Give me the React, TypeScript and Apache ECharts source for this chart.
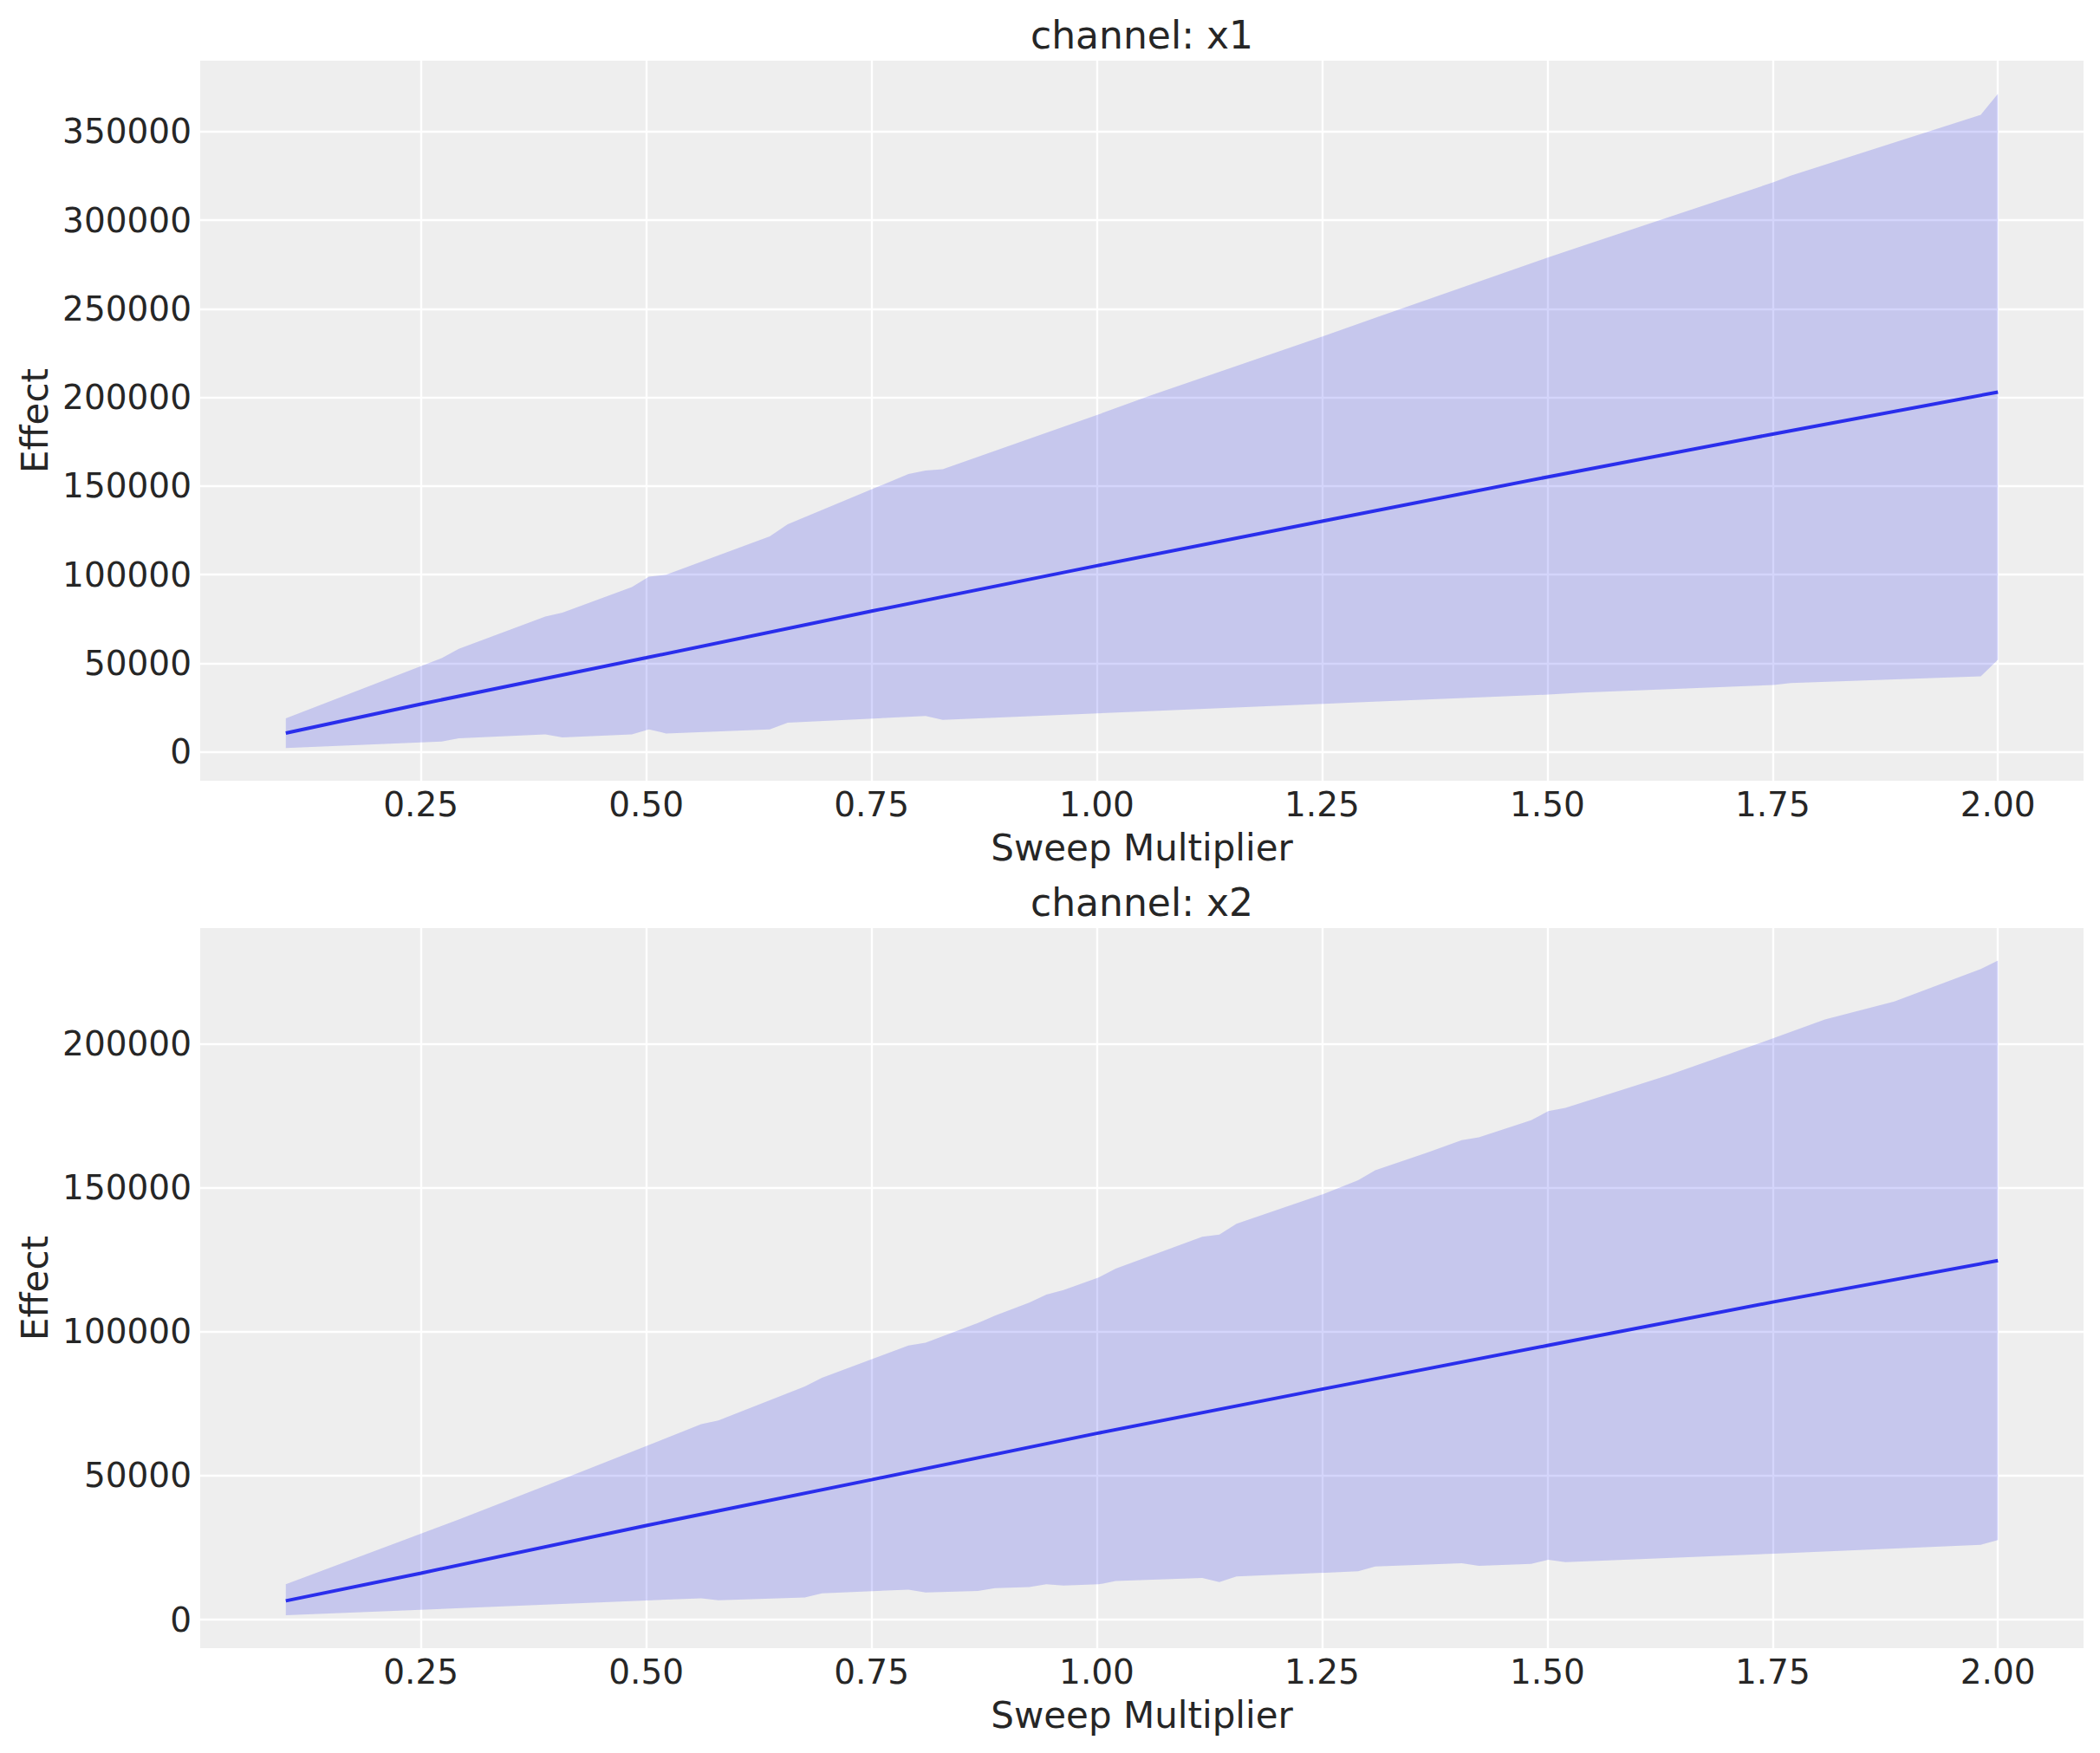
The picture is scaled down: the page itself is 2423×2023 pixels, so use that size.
import React, { useEffect, useRef } from "react";
import * as echarts from "echarts";

// ---- tick labels ----
const xTicks = [0.25, 0.5, 0.75, 1.0, 1.25, 1.5, 1.75, 2.0];
const yTicksX1 = [0, 50000, 100000, 150000, 200000, 250000, 300000, 350000];
const yTicksX2 = [0, 50000, 100000, 150000, 200000];

// ---- titles / labels ----
const titles = ["channel: x1", "channel: x2"];
const xName = "Sweep Multiplier";
const yName = "Effect";

// ---- mean effect lines ----
const meanX = [0.1, 0.25, 0.5, 0.75, 1.0, 1.25, 1.5, 1.75, 2.0];
const meanX1 = [10600, 27000, 53100, 79400, 105000, 130100, 155100, 179300, 203000];
const meanX2 = [6530, 16150, 32700, 48600, 64700, 80050, 95200, 110300, 124700];

// ---- HDI band, channel x1 ----
const upperX1: [number, number][] = [
  [0.1, 18900], [0.273, 52900], [0.292, 58200], [0.388, 76400], [0.407, 78500],
  [0.484, 93000], [0.503, 98900], [0.522, 99900], [0.637, 121600], [0.657, 128400],
  [0.791, 156800], [0.81, 158700], [0.829, 159500], [1.002, 190400], [1.06, 201200],
  [1.252, 234600], [1.309, 244900], [1.501, 279000], [1.539, 285500], [1.751, 321400],
  [1.77, 325100], [1.981, 359500], [2.0, 371300],
];
const lowerX1: [number, number][] = [
  [0.1, 2100], [0.273, 5800], [0.292, 7700], [0.388, 9800], [0.407, 8200],
  [0.484, 9800], [0.503, 12700], [0.522, 10400], [0.637, 12700], [0.657, 16500],
  [0.81, 20200], [0.829, 18100], [1.034, 22400], [1.252, 27100], [1.29, 27900],
  [1.501, 32300], [1.539, 33450], [1.751, 37700], [1.77, 38800], [1.981, 42600],
  [2.0, 52000],
];

// ---- HDI band, channel x2 ----
const upperX2: [number, number][] = [
  [0.1, 12260], [0.292, 34800], [0.418, 50150], [0.561, 67900], [0.58, 69200],
  [0.676, 81000], [0.695, 84000], [0.791, 95200], [0.81, 96200], [0.868, 103000],
  [0.887, 105600], [0.925, 110100], [0.944, 112900], [0.963, 114500], [1.002, 118800],
  [1.021, 121950], [1.117, 132950], [1.136, 133700], [1.155, 137500], [1.252, 147900],
  [1.29, 152600], [1.309, 156100], [1.367, 162250], [1.405, 166550], [1.424, 167550],
  [1.482, 173450], [1.501, 176600], [1.52, 177750], [1.635, 189150], [1.751, 201950],
  [1.808, 208450], [1.885, 214700], [1.981, 225950], [2.0, 228900],
];
const lowerX2: [number, number][] = [
  [0.1, 1500], [0.561, 7430], [0.58, 6720], [0.676, 7730], [0.695, 9140],
  [0.791, 10450], [0.81, 9440], [0.868, 9950], [0.887, 10950], [0.925, 11350],
  [0.944, 12260], [0.963, 11850], [1.002, 12260], [1.021, 13460], [1.117, 14470],
  [1.136, 13060], [1.155, 14970], [1.29, 16780], [1.309, 18480], [1.405, 19590],
  [1.424, 18690], [1.482, 19390], [1.501, 20800], [1.52, 20000], [1.751, 22900],
  [1.981, 26000], [2.0, 27640],
];

const FONT = "DejaVu Sans";
const TEXT = "#262626";
const LINE = "#2a2eec";
const BAND = "rgba(42,46,236,0.2)";

const W = 2423;
const H = 2023;
const GRID_LEFT = 231;
const GRID_W = 2173;
const GRID_H = 831;
const GRID_TOPS = [70, 1071];
const Y_RANGES = [
  [-16300, 390000],
  [-9900, 240200],
];

function bandSeries(idx: number, upper: [number, number][], lower: [number, number][]) {
  return {
    type: "custom",
    xAxisIndex: idx,
    yAxisIndex: idx,
    silent: true,
    clip: false,
    z: 2,
    data: [[1, 0]],
    renderItem: (_params: any, api: any) => {
      const pts = upper
        .map((p) => api.coord(p))
        .concat(lower.slice().reverse().map((p) => api.coord(p)));
      return {
        type: "polygon",
        shape: { points: pts },
        style: { fill: BAND, stroke: null },
      };
    },
  };
}

function meanSeries(idx: number, ys: number[]) {
  return {
    type: "line",
    xAxisIndex: idx,
    yAxisIndex: idx,
    data: meanX.map((x, i) => [x, ys[i]]),
    showSymbol: false,
    symbol: "none",
    silent: true,
    z: 3,
    lineStyle: { color: LINE, width: 4 },
  };
}

export default function App() {
  const ref = useRef<HTMLDivElement>(null);
  useEffect(() => {
    if (!ref.current) return;
    const chart = echarts.init(ref.current, null, { renderer: "svg" });
    const yTickSets = [yTicksX1, yTicksX2];
    const option: any = {
      animation: false,
      backgroundColor: "#ffffff",
      textStyle: { fontFamily: FONT, color: TEXT },
      title: titles.map((t, i) => ({
        text: t,
        left: GRID_LEFT + GRID_W / 2,
        textAlign: "center",
        top: GRID_TOPS[i] - 52,
        padding: 0,
        textStyle: { fontFamily: FONT, fontSize: 44, fontWeight: "normal", color: TEXT },
      })),
      grid: GRID_TOPS.map((top) => ({
        left: GRID_LEFT,
        top,
        width: GRID_W,
        height: GRID_H,
        show: true,
        backgroundColor: "#eeeeee",
        borderWidth: 0,
        containLabel: false,
      })),
      xAxis: GRID_TOPS.map((_, i) => ({
        type: "value",
        gridIndex: i,
        min: 0.005,
        max: 2.095,
        name: xName,
        nameLocation: "middle",
        nameGap: 56,
        nameTextStyle: { fontFamily: FONT, fontSize: 42, color: TEXT },
        axisLine: { show: false },
        axisTick: { show: false, customValues: xTicks },
        axisLabel: {
          customValues: xTicks,
          formatter: (v: number) => v.toFixed(2),
          fontFamily: FONT,
          fontSize: 39,
          color: TEXT,
          margin: 8,
        },
        splitLine: { show: true, lineStyle: { color: "#ffffff", width: 2.4 } },
      })),
      yAxis: GRID_TOPS.map((_, i) => ({
        type: "value",
        gridIndex: i,
        min: Y_RANGES[i][0],
        max: Y_RANGES[i][1],
        name: yName,
        nameLocation: "middle",
        nameRotate: 90,
        nameGap: 165,
        nameTextStyle: { fontFamily: FONT, fontSize: 42, color: TEXT },
        axisLine: { show: false },
        axisTick: { show: false, customValues: yTickSets[i] },
        axisLabel: {
          customValues: yTickSets[i],
          formatter: (v: number) => String(Math.round(v)),
          fontFamily: FONT,
          fontSize: 39,
          color: TEXT,
          margin: 10,
        },
        splitLine: { show: true, lineStyle: { color: "#ffffff", width: 2.4 } },
      })),
      series: [
        bandSeries(0, upperX1, lowerX1),
        meanSeries(0, meanX1),
        bandSeries(1, upperX2, lowerX2),
        meanSeries(1, meanX2),
      ],
    };
    chart.setOption(option);
    return () => chart.dispose();
  }, []);
  return (
    <div
      ref={ref}
      style={{ position: "absolute", left: 0, top: 0, width: W, height: H }}
    />
  );
}
